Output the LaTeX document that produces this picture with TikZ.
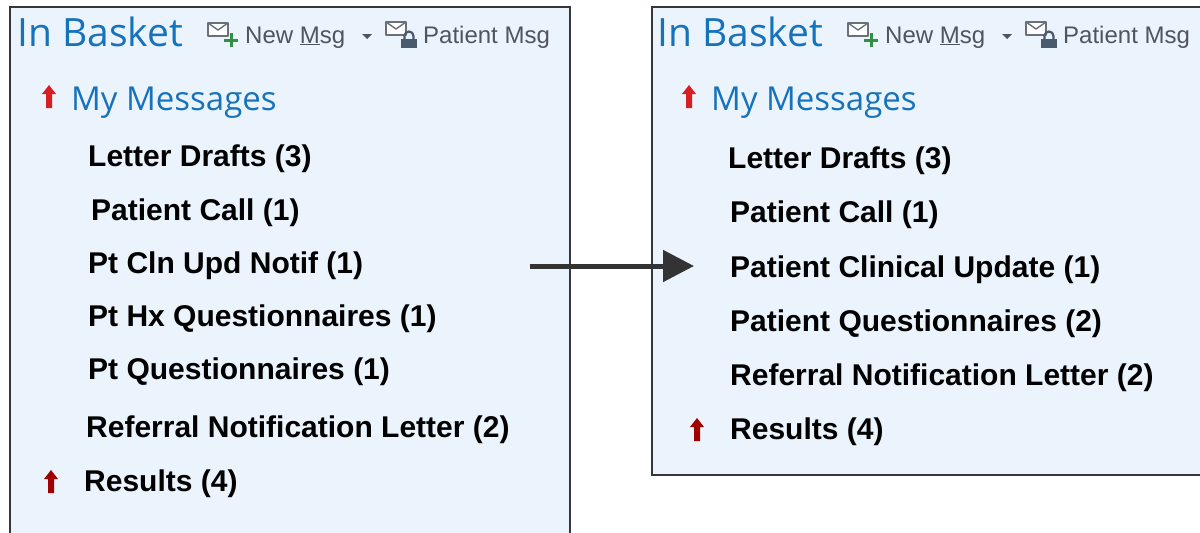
\documentclass[tikz,border=0pt]{standalone}
\usepackage{fontspec}
\setmainfont{Liberation Sans}
\newfontfamily\headfont{Open Sans}
\usetikzlibrary{arrows.meta}

\definecolor{panelfill}{RGB}{235,244,253}
\definecolor{panelline}{RGB}{55,55,55}
\definecolor{headblue}{RGB}{22,114,186}
\definecolor{toolgray}{RGB}{80,84,95}
\definecolor{iconline}{RGB}{105,112,122}
\definecolor{flagred}{RGB}{215,30,35}
\definecolor{flagdark}{RGB}{160,0,0}
\definecolor{plusgreen}{RGB}{45,145,65}
\definecolor{lockgray}{RGB}{75,90,108}
\definecolor{arrowgray}{RGB}{51,51,51}

\begin{document}
\begin{tikzpicture}[x=1pt, y=-1pt,
	panel/.style={draw=panelline, line width=2pt, fill=panelfill},
	entry/.style={anchor=west, inner sep=0pt, font=\fontsize{30}{35}\selectfont\bfseries},
	heading/.style={anchor=base west, inner sep=0pt, text=headblue, font=\headfont\fontsize{39}{46}\selectfont},
	subheading/.style={anchor=base west, inner sep=0pt, text=headblue, font=\headfont\fontsize{33}{40}\selectfont},
	tool/.style={anchor=base west, inner sep=0pt, text=toolgray, font=\fontsize{24}{28}\selectfont},
	move/.style={draw=arrowgray, line width=5pt, -{Triangle[length=31pt, width=31pt]}},
	pics/flag/.style={code={
		\fill[#1] (0,-12) -- (7,-3) -- (3,-3) -- (3,11) -- (-3,11) -- (-3,-3) -- (-7,-3) -- cycle;
	}},
	pics/envelope/.style={code={
		\draw[iconline, line width=1.4pt, line join=round, fill=white] (0,0) rectangle (20,13);
		\draw[iconline, line width=1.4pt, line join=round] (0,0) -- (10,7) -- (20,0);
	}}
]
	\useasboundingbox (0,0) rectangle (1200,533);

	% Draw the two panels, both run off the page
	\draw[panel] (10,7) rectangle (570,545);
	\draw[panel] (652,7) rectangle (1210,475);

	% Header and toolbar, the same in both panels
	\foreach \dx/\side in {0/l, 640/r} {
		\begin{scope}[xshift=\dx pt]
			\node[heading] (\side Title) at (17,46) {In Basket};
			\pic at (208,23) {envelope};
			\draw[plusgreen, line width=3pt] (224,40) -- (238,40) (231,33) -- (231,47);
			\node[tool] (\side New) at (245,43) {New \underline{M}sg};
			\fill[toolgray] (362,34) -- (372,34) -- (367,39) -- cycle;
			\pic at (386,22) {envelope};
			\fill[lockgray] (401,39) rectangle (417,48);
			\draw[lockgray, line width=2.2pt] (404.5,39) -- (404.5,36) arc (180:360:4.5) -- (413.5,39);
			\node[tool] (\side Patient) at (423,43) {Patient Msg};
			% Flag in front of the folder
			\pic at (49,97) {flag=flagred};
			\node[subheading] (\side Mine) at (71,110) {My Messages};
		\end{scope}
	}

	% Folders before the rename
	\foreach \nm/\xx/\yy/\txt in {lDrafts/88/159/Letter Drafts (3), lCall/91/213/Patient Call (1),
		lUpdate/88/266/Pt Cln Upd Notif (1), lHistory/88/319/Pt Hx Questionnaires (1),
		lQuest/88/372/Pt Questionnaires (1), lReferral/86/430/Referral Notification Letter (2),
		lResults/84/484/Results (4)}
		\node[entry] (\nm) at (\xx,\yy) {\txt};

	% Folders after the rename
	\foreach \nm/\xx/\yy/\txt in {rDrafts/728/161/Letter Drafts (3), rCall/730/215/Patient Call (1),
		rUpdate/730/270/Patient Clinical Update (1), rQuest/730/324/Patient Questionnaires (2),
		rReferral/730/378/Referral Notification Letter (2), rResults/730/432/Results (4)}
		\node[entry] (\nm) at (\xx,\yy) {\txt};

	\pic at (51,482) {flag=flagdark};
	\pic at (697,430) {flag=flagdark};

	% Arrow from the old list to the new one
	\coordinate (from) at (530,266);
	\coordinate (to) at (694,266);
	\draw[move] (from) -- (to);
\end{tikzpicture}
\end{document}
